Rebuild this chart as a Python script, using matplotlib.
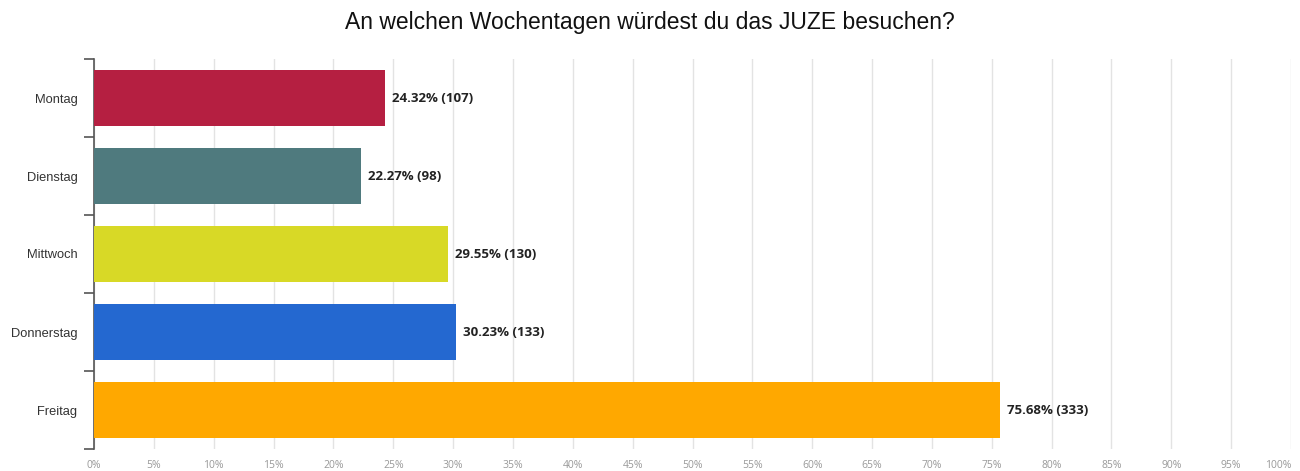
import matplotlib
matplotlib.use("Agg")
import matplotlib.pyplot as plt
import numpy as np

categories = ["Montag", "Dienstag", "Mittwoch", "Donnerstag", "Freitag"]
percentages = [24.32, 22.27, 29.55, 30.23, 75.68]
counts = [107, 98, 130, 133, 333]
colors = ["#B51F41", "#4F7A7E", "#D8D926", "#2468D0", "#FFA800"]
x_ticks = list(range(0, 101, 5))
x_ticklabels = [f"{t}%" for t in x_ticks]
title = "An welchen Wochentagen würdest du das JUZE besuchen?"

fig = plt.figure(figsize=(13, 4.71), dpi=100)
ax = fig.add_axes([94/1300, 1-449/471, 1197/1300, (449-59)/471])

y = np.arange(len(categories))
ax.barh(y, percentages, height=0.72, color=colors, zorder=3)

for yi, p, c in zip(y, percentages, counts):
    ax.text(p + 0.6, yi, f"{p:.2f}% ({c})", va="center", ha="left",
            fontsize=9.5, fontweight="bold", family="Open Sans", color="#222222")

ax.set_xlim(0, 100)
ax.set_ylim(len(categories) - 0.5, -0.5)

ax.set_xticks(x_ticks)
ax.set_xticklabels(x_ticklabels, fontsize=7.5, color="#999999", family="Open Sans")
ax.tick_params(axis="x", length=0, pad=8)
ax.get_xticklabels()[-1].set_horizontalalignment("right")
ax.grid(axis="x", color="#E3E3E3", linewidth=1, zorder=0)

ax.set_yticks(np.arange(-0.5, len(categories), 1.0))
ax.set_yticklabels([])
ax.tick_params(axis="y", which="major", length=7, width=1.2, color="#555555", direction="out")
ax.set_yticks(y, minor=True)
ax.set_yticklabels(categories, minor=True, fontsize=9.3, family="Liberation Sans", color="#333333")
ax.tick_params(axis="y", which="minor", length=0, pad=12)

for s in ["top", "right", "bottom"]:
    ax.spines[s].set_visible(False)
ax.spines["left"].set_color("#555555")
ax.spines["left"].set_linewidth(1.2)

fig.text(0.5, 1-22/471, title, ha="center", va="center", fontsize=16.5,
         family="Liberation Sans", color="#111111")

fig.savefig("out.png", dpi=100)
